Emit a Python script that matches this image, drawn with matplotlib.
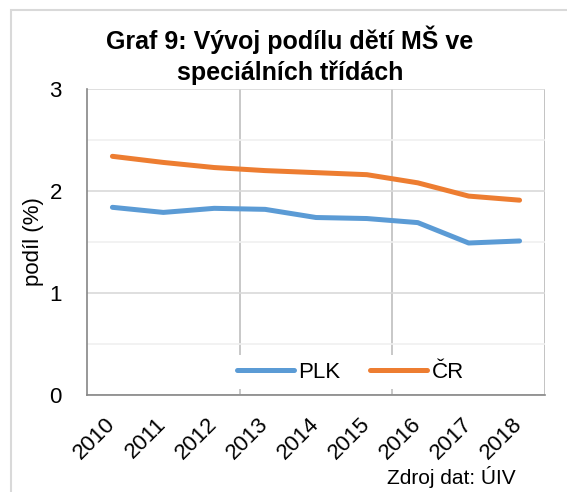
import numpy as np
import matplotlib
matplotlib.use("Agg")
import matplotlib.pyplot as plt
from matplotlib.patches import Rectangle

plt.rcParams['font.family'] = ['Liberation Sans', 'DejaVu Sans']

years = ['2010', '2011', '2012', '2013', '2014', '2015', '2016', '2017', '2018']
plk = [1.84, 1.79, 1.83, 1.82, 1.74, 1.73, 1.69, 1.49, 1.51]
cr = [2.34, 2.28, 2.23, 2.20, 2.18, 2.16, 2.08, 1.95, 1.91]

fig = plt.figure(figsize=(5.67, 4.92), dpi=100)
ax = fig.add_axes([0.1534, 0.1972, 0.8078, 0.6219])

x = np.arange(len(years))
ax.plot(x, plk, color='#5B9BD5', lw=3.6, solid_capstyle='round', label='PLK', zorder=3)
ax.plot(x, cr, color='#ED7D31', lw=3.6, solid_capstyle='round', label='ČR', zorder=3)

ax.set_xlim(-0.5, len(years) - 0.5)
ax.set_ylim(0, 3)
ax.set_xticks(x)
ax.set_xticklabels(years, rotation=45, ha='right', va='center', rotation_mode='anchor')
ax.set_xticks(np.arange(2.5, len(years), 3), minor=True)
ax.set_yticks([0, 1, 2, 3])
ax.set_yticks(np.arange(0.5, 3, 1), minor=True)

ax.tick_params(axis='x', which='major', length=0, pad=19, labelsize=16)
ax.tick_params(axis='y', which='major', length=0, pad=18, labelsize=16)
ax.tick_params(which='minor', length=0)

ax.grid(axis='y', which='major', color='#d9d9d9', lw=1.2)
ax.grid(axis='y', which='minor', color='#f0f0f0', lw=1.2)
ax.grid(axis='x', which='minor', color='#bfbfbf', lw=1.2)
ax.set_axisbelow(True)

for s in ['top', 'right']:
    ax.spines[s].set_visible(False)
ax.spines['left'].set_color('#868686')
ax.spines['bottom'].set_color('#868686')
ax.spines['left'].set_linewidth(1.2)
ax.spines['bottom'].set_linewidth(1.2)
ax.axvline(len(years) - 0.5, color='#d9d9d9', lw=1.2, zorder=0)

ax.set_ylabel('podíl (%)', fontsize=16, labelpad=4)

leg = ax.legend(loc='center', bbox_to_anchor=(0.575, 0.075), ncol=2, frameon=True,
                fontsize=16, handlelength=2.55, handletextpad=0.2, columnspacing=1.35,
                borderpad=0.3)
leg.get_frame().set_facecolor('white')
leg.get_frame().set_edgecolor('none')
leg.get_frame().set_alpha(1)

fig.text(290 / 567, 1 - 26 / 492, 'Graf 9: Vývoj podílu dětí MŠ ve\nspeciálních třídách',
         ha='center', va='top', fontsize=18, fontweight='bold', linespacing=1.3)
fig.text(0.91, 0.008, 'Zdroj dat: ÚIV', ha='right', va='bottom', fontsize=15)

fig.patches.append(Rectangle((11 / 567, -0.1), 1.2, 1.08,
                             transform=fig.transFigure, fill=False,
                             edgecolor='#d9d9d9', lw=1.5))

fig.savefig('out.png', dpi=100, facecolor='white')
